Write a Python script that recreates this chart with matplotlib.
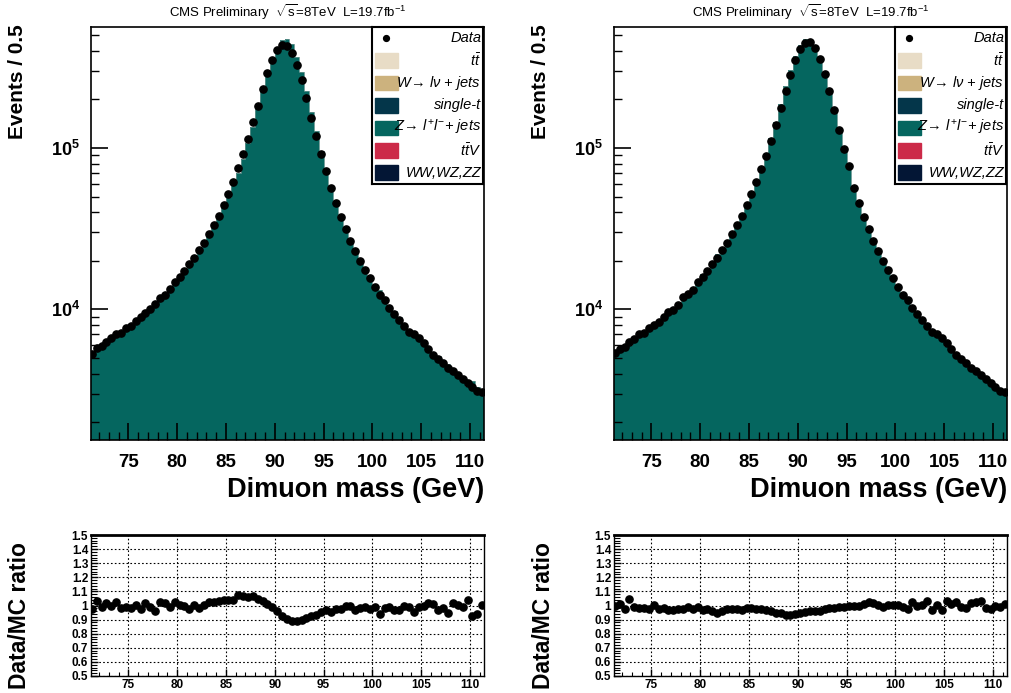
"""Dimuon mass: data vs MC stack with ratio panels (saved as PNG)."""

import matplotlib

matplotlib.use("Agg")
import matplotlib.pyplot as plt
import matplotlib.ticker as mticker
import numpy as np
from matplotlib.patches import Rectangle

plt.rcParams["font.family"] = ["Liberation Sans", "DejaVu Sans"]
plt.rcParams["mathtext.fontset"] = "custom"
plt.rcParams["mathtext.rm"] = "Liberation Sans"
plt.rcParams["mathtext.it"] = "Liberation Sans:italic"
plt.rcParams["mathtext.bf"] = "Liberation Sans:bold"

# bins of 0.5 GeV
bin_edges = np.arange(71.0, 111.51, 0.5)
bin_centers = 0.5 * (bin_edges[:-1] + bin_edges[1:])

# left panel: events per bin (data) and data/MC ratio
data_left = [
    5290, 5760, 5930, 6250, 6640, 7000, 7160, 7630, 7925, 8465,
    8920, 9445, 10040, 10785, 11750, 12360, 13420, 14690, 15910, 17260,
    18990, 20860, 23180, 25830, 29360, 33090, 37960, 44200, 51930, 61960,
    75180, 91410, 113200, 144200, 181900, 230800, 290000, 352400, 406300, 432000,
    430200, 389300, 328200, 265100, 205100, 154200, 118700, 91410, 71770, 56320,
    45290, 37420, 31260, 26580, 22950, 19900, 17510, 15550, 13800, 12350,
    11420, 10230, 9420, 8650, 7910, 7200, 7000, 6615, 6160, 5650,
    5190, 4930, 4630, 4330, 4170, 3920, 3720, 3480, 3320, 3120,
    3080,
]
ratio_left = [
    0.974, 1.033, 0.991, 1.021, 0.998, 1.028, 0.983, 0.991, 0.981, 1.007,
    0.974, 1.017, 0.986, 0.958, 1.024, 1.017, 0.991, 1.028, 1.002, 0.998,
    0.974, 1.002, 0.979, 1.007, 1.028, 1.024, 1.035, 1.042, 1.040, 1.042,
    1.071, 1.066, 1.057, 1.066, 1.045, 1.035, 1.012, 0.986, 0.958, 0.927,
    0.906, 0.889, 0.892, 0.896, 0.913, 0.922, 0.932, 0.955, 0.965, 0.953,
    0.974, 0.974, 0.998, 0.993, 0.967, 0.981, 0.988, 0.972, 0.991, 0.937,
    0.979, 0.991, 0.965, 0.965, 1.000, 0.986, 0.953, 0.988, 0.995, 1.021,
    1.014, 0.965, 0.981, 0.950, 1.019, 1.007, 0.991, 1.042, 0.925, 0.943,
    1.002,
]

# right panel
data_right = [
    5340, 5680, 5870, 6280, 6550, 7000, 7100, 7630, 7960, 8345,
    9000, 9580, 9940, 10630, 11870, 12430, 13160, 14690, 15910, 17260,
    18990, 20860, 23180, 25830, 29360, 33090, 37960, 44200, 51930, 61960,
    74130, 89230, 110500, 138200, 176800, 224300, 284600, 350400, 409800, 449000,
    452800, 418100, 357500, 288700, 224300, 171100, 130000, 99150, 77030, 56320,
    45290, 37420, 31260, 26580, 22950, 19900, 17510, 15550, 13800, 12350,
    11420, 10230, 9420, 8650, 7910, 7200, 7000, 6615, 6160, 5650,
    5190, 4930, 4630, 4330, 4170, 3920, 3720, 3480, 3320, 3120,
    3080,
]
ratio_right = [
    0.995, 1.014, 0.972, 1.047, 0.986, 0.981, 0.983, 0.972, 1.005, 0.972,
    0.981, 0.965, 0.965, 0.974, 0.976, 0.991, 0.976, 0.988, 0.965, 0.974,
    0.958, 0.946, 0.960, 0.976, 0.972, 0.974, 0.969, 0.979, 0.979, 0.976,
    0.976, 0.965, 0.962, 0.948, 0.948, 0.934, 0.934, 0.939, 0.946, 0.953,
    0.958, 0.960, 0.962, 0.972, 0.979, 0.983, 0.986, 0.991, 0.995, 0.998,
    0.993, 1.014, 1.028, 1.017, 1.005, 0.991, 1.005, 1.005, 1.005, 0.988,
    0.974, 1.024, 0.998, 1.007, 1.033, 0.967, 1.005, 0.967, 1.035, 1.009,
    1.026, 0.991, 0.983, 1.021, 1.026, 1.031, 0.981, 0.976, 1.000, 0.991,
    1.014,
]

legend_labels = ["Data", r"$t\bar{t}$", r"$W\!\rightarrow\, l\nu$ + jets", "single-t",
                 r"$Z\!\rightarrow\, l^{+}l^{-}$+ jets", r"$t\bar{t}V$", "WW,WZ,ZZ"]
legend_colors = [None, "#e8dcc6", "#ccb27e", "#04364a", "#05665f", "#cc2a48", "#031635"]
z_color = "#05665f"

title = r"CMS Preliminary  $\sqrt{\rm s}$=8TeV  L=19.7fb$^{-1}$"

W, H = 1011, 693
fig = plt.figure(figsize=(W / 100, H / 100), dpi=100)


def frac(x0, y0, x1, y1):
    return [x0 / W, 1 - y1 / H, (x1 - x0) / W, (y1 - y0) / H]


def draw_panel(x0, data, ratio):
    data = np.array(data, dtype=float)
    ratio = np.array(ratio, dtype=float)
    mc = data / ratio

    ax = fig.add_axes(frac(x0, 27, x0 + 393, 440))
    ax.stairs(mc, bin_edges, baseline=1.0, fill=True, color=z_color, lw=0)
    ax.stairs(mc, bin_edges, baseline=None, color="#5f8f8a", lw=0.6)
    ax.plot(bin_centers, data, "o", color="black", ms=5.2)
    ax.set_yscale("log")
    ax.set_xlim(71.17, 111.44)
    ax.set_ylim(1553, 5.61e5)
    ax.xaxis.set_major_locator(mticker.MultipleLocator(5))
    ax.xaxis.set_minor_locator(mticker.MultipleLocator(1))
    ax.yaxis.set_major_locator(mticker.LogLocator(base=10))
    ax.yaxis.set_minor_locator(mticker.LogLocator(base=10, subs=np.arange(2, 10)))
    ax.yaxis.set_major_formatter(mticker.FuncFormatter(
        lambda v, p: r"$\mathbf{10^{%d}}$" % round(np.log10(v))))
    ax.yaxis.set_minor_formatter(mticker.NullFormatter())
    ax.tick_params(which="both", direction="in", top=False, right=False)
    ax.tick_params(which="major", length=12, width=1.2, labelsize=13)
    ax.tick_params(which="minor", length=6, width=1.0)
    ax.tick_params(axis="x", which="major", pad=10, labelsize=13.5)
    ax.tick_params(axis="y", which="major", pad=8)
    for lab in ax.get_xticklabels():
        lab.set_fontweight("bold")
    for s in ax.spines.values():
        s.set_linewidth(1.2)
    ax.text(0.5, 1.012, title, transform=ax.transAxes, ha="center", va="bottom", fontsize=9.5)
    ax.text(1.0, -0.09, "Dimuon mass (GeV)", transform=ax.transAxes, ha="right",
            va="top", fontsize=19.5, fontweight="bold")

    # legend box
    lg = fig.add_axes(frac(x0 + 281, 27, x0 + 392, 184))
    lg.set_xlim(0, 1)
    lg.set_ylim(0, 7)
    lg.set_xticks([])
    lg.set_yticks([])
    for s in lg.spines.values():
        s.set_linewidth(1.5)
    for i, (lab, col) in enumerate(zip(legend_labels, legend_colors)):
        yc = 6.5 - i
        if col is None:
            lg.plot([0.13], [yc], "o", color="black", ms=4.2)
        else:
            lg.add_patch(Rectangle((0.03, yc - 0.33), 0.2, 0.66, color=col))
        lg.text(0.985, yc, lab, ha="right", va="center", fontsize=10.5, style="italic")

    # ratio panel
    rx = fig.add_axes(frac(x0, 535, x0 + 393, 676))
    rx.plot(bin_centers, ratio, "o", color="black", ms=5.2)
    rx.set_xlim(71.17, 111.44)
    rx.set_ylim(0.5, 1.5)
    rx.xaxis.set_major_locator(mticker.MultipleLocator(5))
    rx.xaxis.set_minor_locator(mticker.MultipleLocator(1))
    rx.yaxis.set_major_locator(mticker.MultipleLocator(0.1))
    rx.yaxis.set_minor_locator(mticker.MultipleLocator(0.02))
    rx.yaxis.set_major_formatter(mticker.FuncFormatter(lambda v, p: "%g" % round(v, 1)))
    rx.grid(True, which="major", linestyle=(0, (1.5, 2)), color="black", lw=0.8)
    rx.tick_params(which="both", direction="in", top=False, right=False)
    rx.tick_params(which="major", length=5, width=1.0, labelsize=8.5, pad=2)
    rx.tick_params(which="minor", length=4, width=0.8)
    rx.tick_params(axis="x", which="minor", length=3)
    for lab in rx.get_xticklabels() + rx.get_yticklabels():
        lab.set_fontweight("bold")
    for s in rx.spines.values():
        s.set_linewidth(1.0)
    rx.spines["top"].set_linewidth(2.0)
    return ax, rx


draw_panel(91, data_left, ratio_left)
draw_panel(614, data_right, ratio_right)

for xl in (18, 541):
    fig.text(xl / W, 1 - 24 / H, "Events / 0.5", rotation=90, ha="center", va="top",
             fontsize=15, fontweight="bold")
    fig.text((xl + 2) / W, 1 - 542 / H, "Data/MC ratio", rotation=90, ha="center", va="top",
             fontsize=16.5, fontweight="bold")

fig.savefig("out.png", dpi=100)
